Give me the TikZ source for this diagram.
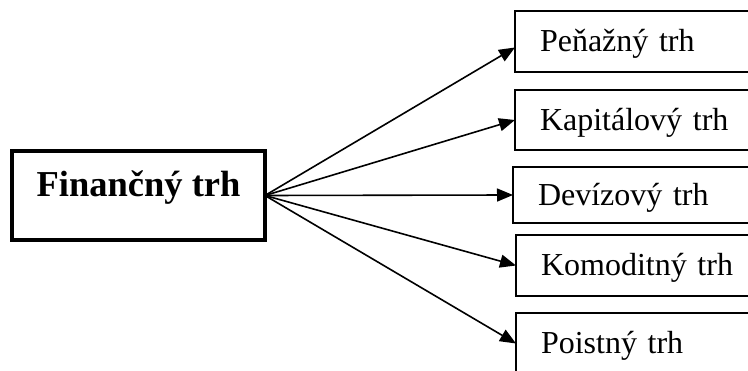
\documentclass[tikz,border=0pt]{standalone}
\usepackage{fontspec}
\setmainfont{Liberation Serif}
\usetikzlibrary{arrows.meta,calc}
\begin{document}
\begin{tikzpicture}[x=1pt,y=1pt,
  mainbox/.style={draw, line width=3.5pt, outer sep=0pt, minimum width=253pt, minimum height=89pt, inner sep=0pt,
    font=\fontsize{36.5}{40}\selectfont\bfseries, text height=12pt, text depth=9pt},
  sub/.style={draw, line width=2pt, outer sep=0pt, anchor=north west, minimum width=300pt, minimum height=61pt,
    inner xsep=22pt, inner ysep=0pt, text width=250pt, align=left,
    font=\fontsize{32}{36}\selectfont, text height=27pt, text depth=6pt},
  arr/.style={line width=1.6pt, -{Triangle[length=16pt,width=13pt]}}]
\useasboundingbox (0,0) rectangle (748,-371);
\clip (0,0) rectangle (748,-371);
\fill[white] (0,0) rectangle (748,-371);
\node[mainbox] (main) at (138.5,-195.5) {Finančný trh};
\node[sub] (b1) at (515,-11) {Peňažný trh};
\node[sub, minimum height=60pt] (b2) at (515,-90) {Kapitálový trh};
\node[sub, minimum height=56pt] (b3) at (513,-167) {Devízový trh};
\node[sub] (b4) at (516,-235) {Komoditný trh};
\node[sub] (b5) at (516,-313) {Poistný trh};
\draw[arr] (main.east) -- ([yshift=-6pt]b1.west);
\draw[arr] (main.east) -- (b2.west);
\draw[arr] (main.east) -- (b3.west);
\draw[arr] (main.east) -- (b4.west);
\draw[arr] (main.east) -- (b5.west);
\end{tikzpicture}
\end{document}
